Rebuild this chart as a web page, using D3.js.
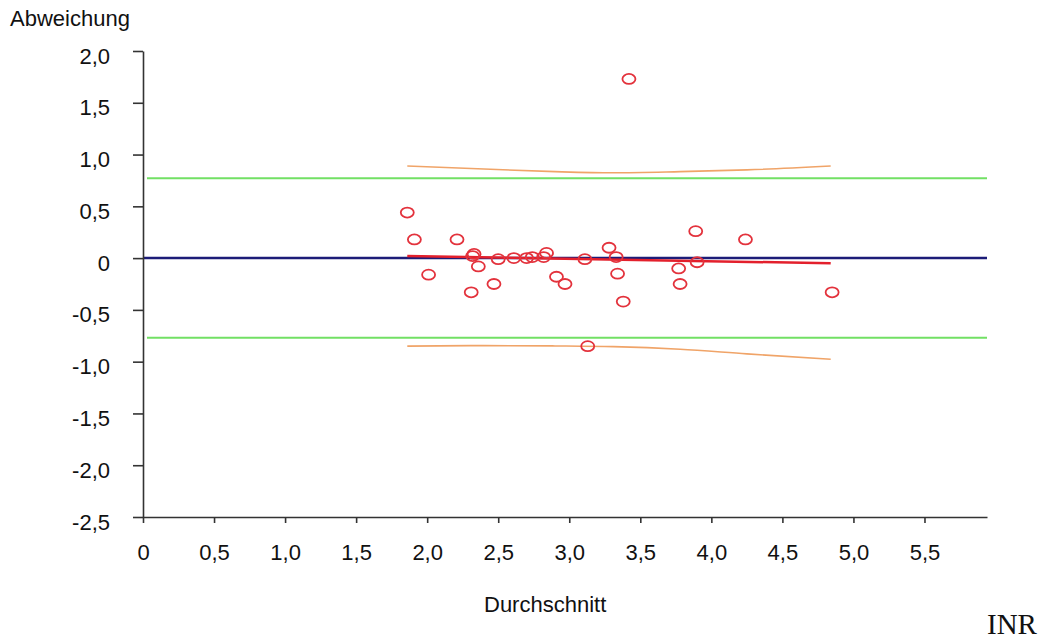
<!DOCTYPE html>
<html>
<head>
<meta charset="utf-8">
<script src="https://cdn.jsdelivr.net/npm/d3@7"></script>
<style>
	body { margin: 0; background: #fff; }
	svg text { font-family: "Liberation Sans", Arial, sans-serif; fill: #111; }
</style>
</head>
<body>
<svg id="chart" width="1043" height="641"></svg>
<script>
	/* Data */
	let meanValues = [1.86, 1.91, 2.01, 2.21, 2.31, 2.33, 2.32, 2.36, 2.47, 2.50, 2.61, 2.70, 2.74, 2.82, 2.84, 2.91, 2.97, 3.11, 3.13, 3.28, 3.33, 3.34, 3.38, 3.42, 3.77, 3.78, 3.89, 3.90, 4.24, 4.85];
	let diffValues = [0.44, 0.18, -0.16, 0.18, -0.33, 0.04, 0.02, -0.08, -0.25, -0.01, 0.00, 0.00, 0.01, 0.01, 0.05, -0.18, -0.25, -0.01, -0.85, 0.10, 0.01, -0.15, -0.42, 1.73, -0.10, -0.25, 0.26, -0.04, 0.18, -0.33];

	let meanDiff = 0;
	let limitsOfAgreement = [0.77, -0.77];

	let regressionX = [1.86, 4.84];
	let regressionY = [0.02, -0.05];

	let bandX = [1.86, 2.4, 2.9, 3.31, 3.78, 4.25, 4.84];
	let bandUpper = [0.89, 0.86, 0.835, 0.824, 0.835, 0.852, 0.889];
	let bandLower = [-0.85, -0.845, -0.848, -0.855, -0.88, -0.925, -0.976];

	let xTicks = [0, 0.5, 1.0, 1.5, 2.0, 2.5, 3.0, 3.5, 4.0, 4.5, 5.0, 5.5];
	let yTicks = [-2.5, -2.0, -1.5, -1.0, -0.5, 0, 0.5, 1.0, 1.5, 2.0];

	let svg = d3.select("#chart");

	let xScale = d3.scaleLinear().domain([0, 5.94]).range([143, 987]);
	let yScale = d3.scaleLinear().domain([-2.5, 2.0]).range([517, 51]);

	// German decimal comma, plain hyphen for negatives
	let fmt = function(d) {
		if (d === 0) return "0";
		return d3.format(".1f")(d).replace(".", ",").replace("\u2212", "-");
	};

	// Limits of agreement
	limitsOfAgreement.forEach(function(v) {
		svg.append("line")
			.attr("x1", xScale(0) + 4).attr("x2", xScale.range()[1])
			.attr("y1", yScale(v)).attr("y2", yScale(v))
			.attr("stroke", "#72e064").attr("stroke-width", 2);
	});

	// Prediction bands
	let bandLine = d3.line().curve(d3.curveMonotoneX)
		.x(function(d) { return xScale(d[0]); })
		.y(function(d) { return yScale(d[1]); });
	[bandUpper, bandLower].forEach(function(band) {
		svg.append("path")
			.datum(bandX.map(function(x, i) { return [x, band[i]]; }))
			.attr("d", bandLine)
			.attr("fill", "none")
			.attr("stroke", "#f0a468")
			.attr("stroke-width", 1.6);
	});

	// Mean difference
	svg.append("line")
		.attr("x1", xScale(0)).attr("x2", xScale.range()[1])
		.attr("y1", yScale(meanDiff)).attr("y2", yScale(meanDiff))
		.attr("stroke", "#1c1c78").attr("stroke-width", 2.5);

	// Regression line
	svg.append("line")
		.attr("x1", xScale(regressionX[0])).attr("x2", xScale(regressionX[1]))
		.attr("y1", yScale(regressionY[0])).attr("y2", yScale(regressionY[1]))
		.attr("stroke", "#e3202c").attr("stroke-width", 2.5);

	// Points
	svg.append("g")
		.selectAll("ellipse")
		.data(meanValues.map(function(x, i) { return { x: x, y: diffValues[i] }; }))
		.enter()
		.append("ellipse")
		.attr("cx", function(d) { return xScale(d.x); })
		.attr("cy", function(d) { return yScale(d.y); })
		.attr("rx", 6.5)
		.attr("ry", 5)
		.attr("fill", "none")
		.attr("stroke", "#e3323c")
		.attr("stroke-width", 1.8);

	// Axes
	let yAxis = svg.append("g")
		.attr("transform", "translate(" + xScale(0) + ",0)")
		.call(d3.axisLeft(yScale).tickValues(yTicks).tickFormat(fmt).tickSize(10).tickSizeOuter(0).tickPadding(23));
	yAxis.selectAll("text").attr("y", 5).style("font-size", "22px").style("font-family", "Liberation Sans, Arial, sans-serif");

	let xAxis = svg.append("g")
		.attr("transform", "translate(0," + yScale(-2.5) + ")")
		.call(d3.axisBottom(xScale).tickValues(xTicks).tickFormat(fmt).tickSize(6).tickSizeOuter(0).tickPadding(21));
	xAxis.selectAll("text").style("font-size", "22px").style("font-family", "Liberation Sans, Arial, sans-serif");

	[yAxis, xAxis].forEach(function(a) {
		a.selectAll("path, line").attr("stroke", "#333").attr("stroke-width", 1.6);
	});

	// Titles
	svg.append("text").attr("x", 10).attr("y", 26)
		.style("font-size", "22px").text("Abweichung");
	svg.append("text").attr("x", 484).attr("y", 612)
		.style("font-size", "22px").text("Durchschnitt");
	svg.append("text").attr("x", 987).attr("y", 634)
		.style("font-family", "Liberation Serif, Times New Roman, serif")
		.style("font-size", "29px").text("INR");
</script>
</body>
</html>
